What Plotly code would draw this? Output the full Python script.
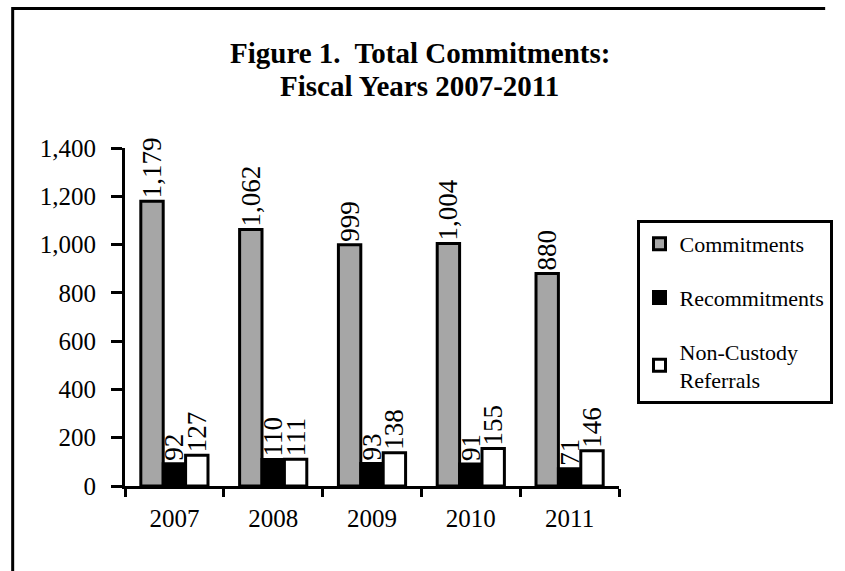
import plotly.graph_objects as go

# data
years = ["2007", "2008", "2009", "2010", "2011"]
commitments = [1179, 1062, 999, 1004, 880]
recommitments = [92, 110, 93, 91, 71]
non_custody = [127, 111, 138, 155, 146]

series = [
    ("Commitments", commitments, "#A6A6A6"),
    ("Recommitments", recommitments, "#000000"),
    ("Non-Custody<br>Referrals", non_custody, "#FFFFFF"),
]
title_lines = ["Figure 1.  Total Commitments:", "Fiscal Years 2007-2011"]

FONT = "Liberation Serif, Times New Roman, serif"
W, H = 845, 571
L, T = 125, 148
R, B = W - 633, H - 486
pw, ph = W - L - R, H - T - B


def px_x(px):
    # pixel -> paper x
    return (px - L) / pw


def px_y(py):
    # pixel -> paper y
    return (H - B - py) / ph


fig = go.Figure()
for i, (name, vals, color) in enumerate(series):
    fig.add_trace(go.Bar(
        x=years, y=vals, name=name, legendgroup=f"g{i}",
        marker=dict(color=color, line=dict(color="black", width=3)),
        texttemplate="%{y:,d}", textposition="outside", textangle=-90,
        constraintext="none", cliponaxis=False,
        textfont=dict(family=FONT, size=27, color="black"),
    ))

# title, two lines placed separately to get the tighter line spacing
for line, yc in zip(title_lines, [53, 86]):
    fig.add_annotation(text=f"<b>{line}</b>", xref="paper", yref="paper",
                       x=px_x(428), y=px_y(yc), xanchor="center", yanchor="middle",
                       showarrow=False, font=dict(family=FONT, size=29, color="black"))

# outer frame (only top and left edges are visible)
fig.add_shape(type="path", xref="paper", yref="paper",
              path=f"M {px_x(9.5)},{px_y(H)} L {px_x(9.5)},{px_y(8.5)} L {px_x(W)},{px_y(8.5)}",
              line=dict(color="black", width=3))

fig.update_layout(
    width=W, height=H,
    margin=dict(l=L, r=R, t=T, b=B),
    paper_bgcolor="white", plot_bgcolor="white",
    font=dict(family=FONT, color="black"),
    barmode="group", bargap=0.32, bargroupgap=0,
    legend=dict(x=px_x(651), y=px_y(220), xanchor="left", yanchor="top",
                bordercolor="black", borderwidth=3, tracegroupgap=22,
                font=dict(family=FONT, size=22, color="black"),
                traceorder="grouped"),
    xaxis=dict(showline=True, linecolor="black", linewidth=3,
               ticks="outside", tickson="boundaries", ticklen=8, tickwidth=3,
               tickcolor="black", showgrid=False, ticklabelstandoff=8,
               tickfont=dict(family=FONT, size=25, color="black")),
    yaxis=dict(range=[0, 1400], dtick=200, tickformat=",d",
               showline=True, linecolor="black", linewidth=3,
               ticks="outside", ticklen=11, tickwidth=3, tickcolor="black",
               showgrid=False, zeroline=False, ticklabelstandoff=10,
               tickfont=dict(family=FONT, size=25, color="black")),
)

fig.write_html("out.html", config={"displayModeBar": False},
               post_script="document.body.style.margin='0';"
                           "document.body.style.overflow='hidden';")
